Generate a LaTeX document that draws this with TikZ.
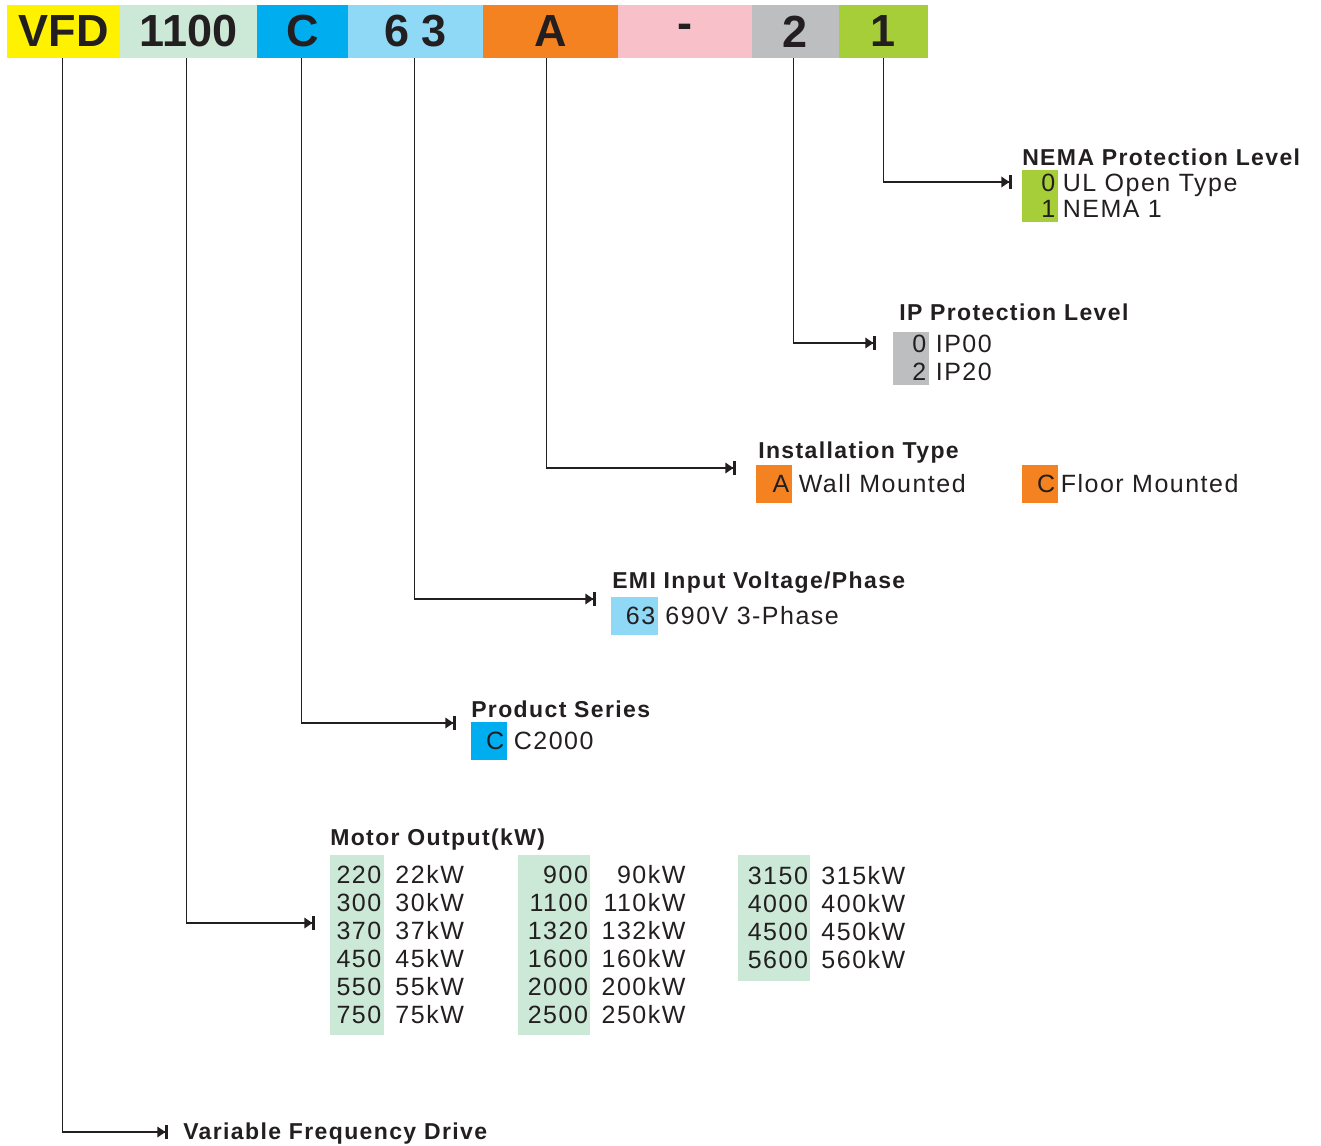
\documentclass[tikz,border=0pt]{standalone}
\usepackage{fontspec}
\setmainfont{Liberation Sans}[LetterSpace=6]
\newfontfamily\barfamily{Liberation Sans}
\usetikzlibrary{arrows.meta}
\usetikzlibrary{positioning}
\definecolor{ink}{HTML}{231F20}
\definecolor{vfdyellow}{HTML}{FFF200}
\definecolor{mintgreen}{HTML}{CCE8D6}
\definecolor{seriesblue}{HTML}{00AEEF}
\definecolor{skyblue}{HTML}{8FD9F7}
\definecolor{mountorange}{HTML}{F58220}
\definecolor{dashpink}{HTML}{F8C1C9}
\definecolor{ipgray}{HTML}{BCBEC0}
\definecolor{nemagreen}{HTML}{A6CE39}
\tikzset{
  seg/.style={fill=#1, minimum height=39.75pt, inner sep=0pt, outer sep=0pt, text=ink,
    font=\barfamily\fontsize{33.75}{36}\selectfont\bfseries},
  head/.style={anchor=base west, inner sep=0pt, text=ink,
    font=\fontsize{17.25}{20}\selectfont\bfseries},
  code/.style={fill=#1, anchor=west, align=right, inner xsep=2.25pt, inner ysep=0pt,
    text=ink, font=\fontsize{18.75}{21}\selectfont},
  desc/.style={inner sep=0pt, align=left, text=ink, font=\fontsize{18.75}{21}\selectfont},
  arr/.style={draw=ink, line width=1pt,
    -{Triangle[length=6pt,width=8pt]Bar[width=10pt,line width=2pt]}}
}

\begin{document}
\begin{tikzpicture}[x=0.75pt,y=-0.75pt]
\useasboundingbox (0,0) rectangle (1321,1146);
% model code bar
\node[seg=vfdyellow, minimum width=84.75pt] (segVfd) at (63.5,31.5) {VFD};
\node[seg=mintgreen, minimum width=102.75pt, right=0pt of segVfd] (segPower) {1100};
\node[seg=seriesblue, minimum width=68.25pt, right=0pt of segPower] (segSeries) {C};
\node[seg=skyblue, minimum width=101.25pt, right=0pt of segSeries] (segEmi) {6 3};
\node[seg=mountorange, minimum width=101.25pt, right=0pt of segEmi] (segMount) {A};
\node[seg=dashpink, minimum width=100.5pt, right=0pt of segMount] (segDash) {-};
\node[seg=ipgray, minimum width=65.25pt, right=0pt of segDash] (segIp) {2};
\node[seg=nemagreen, minimum width=66.75pt, right=0pt of segIp] (segNema) {1};

% NEMA
\node[head] (headNema) at (1022,165) {NEMA Protection Level};
\node[code=nemagreen, text width=22.5pt, minimum height=39pt,
  font=\fontsize{18.75}{19.5}\selectfont] (codeNema) at (1022,196) {0\\1};
\node[desc, right=3pt of codeNema, font=\fontsize{18.75}{19.5}\selectfont] (descNema) {UL Open Type\\NEMA 1};

% IP
\node[head] (headIp) at (899,320) {IP Protection Level};
\node[code=ipgray, text width=22.5pt, minimum height=39.75pt] (codeIp) at (893,358) {0\\2};
\node[desc, right=4.5pt of codeIp] (descIp) {IP00\\IP20};

% installation
\node[head] (headMount) at (758,458) {Installation Type};
\node[code=mountorange, text width=22.5pt, minimum height=28.5pt] (codeWall) at (756,484) {A};
\node[desc, right=4.5pt of codeWall] (descWall) {Wall Mounted};
\node[code=mountorange, text width=22.5pt, minimum height=28.5pt] (codeFloor) at (1022,484) {C};
\node[desc, right=1.5pt of codeFloor] (descFloor) {Floor Mounted};

% EMI
\node[head] (headEmi) at (612,588) {EMI Input Voltage/Phase};
\node[code=skyblue, text width=30.75pt, minimum height=28.5pt] (codeEmi) at (611,616) {63};
\node[desc, right=5pt of codeEmi] (descEmi) {690V 3-Phase};

% series
\node[head] (headSeries) at (471,717) {Product Series};
\node[code=seriesblue, text width=22.5pt, minimum height=28.5pt] (codeSeries) at (471,741) {C};
\node[desc, right=4.5pt of codeSeries] (descSeries) {C2000};

% motor output
\node[head] (headPower) at (330,845) {Motor Output(kW)};
\node[code=mintgreen, text width=36pt, minimum height=135pt] (codePowerA) at (330,945)
  {220\\300\\370\\450\\550\\750};
\node[desc, right=8pt of codePowerA] (descPowerA) {22kW\\30kW\\37kW\\45kW\\55kW\\75kW};
\node[code=mintgreen, text width=50.5pt, minimum height=135pt, inner xsep=1.75pt] (codePowerB) at (518,945)
  {900\\1100\\1320\\1600\\2000\\2500};
\node[desc, right=6.5pt of codePowerB, align=right, text width=64.5pt] (descPowerB)
  {90kW\\110kW\\132kW\\160kW\\200kW\\250kW};
\node[code=mintgreen, text width=50.5pt, minimum height=94.5pt, inner xsep=1.75pt] (codePowerC) at (738,918)
  {3150\\4000\\4500\\5600};
\node[desc, right=8pt of codePowerC] (descPowerC) {315kW\\400kW\\450kW\\560kW};

% drive
\node[head] (headVfd) at (183,1139) {Variable Frequency Drive};

% arrow ends
\coordinate (tipNema) at (1012,182);
\coordinate (tipIp) at (876,343);
\coordinate (tipMount) at (736,468);
\coordinate (tipEmi) at (596,599);
\coordinate (tipSeries) at (456,723);
\coordinate (tipPower) at (315,923);
\coordinate (tipVfd) at (168,1132);

\draw[arr] (segNema.south) |- (tipNema);
\draw[arr] ([xshift=-1.5pt]segIp.south) |- (tipIp);
\draw[arr] ([xshift=-3.25pt]segMount.south) |- (tipMount);
\draw[arr] ([xshift=-1pt]segEmi.south) |- (tipEmi);
\draw[arr] ([xshift=-1pt]segSeries.south) |- (tipSeries);
\draw[arr] ([xshift=-1.75pt]segPower.south) |- (tipPower);
\draw[arr] ([xshift=-1pt]segVfd.south) |- (tipVfd);
\end{tikzpicture}
\end{document}
